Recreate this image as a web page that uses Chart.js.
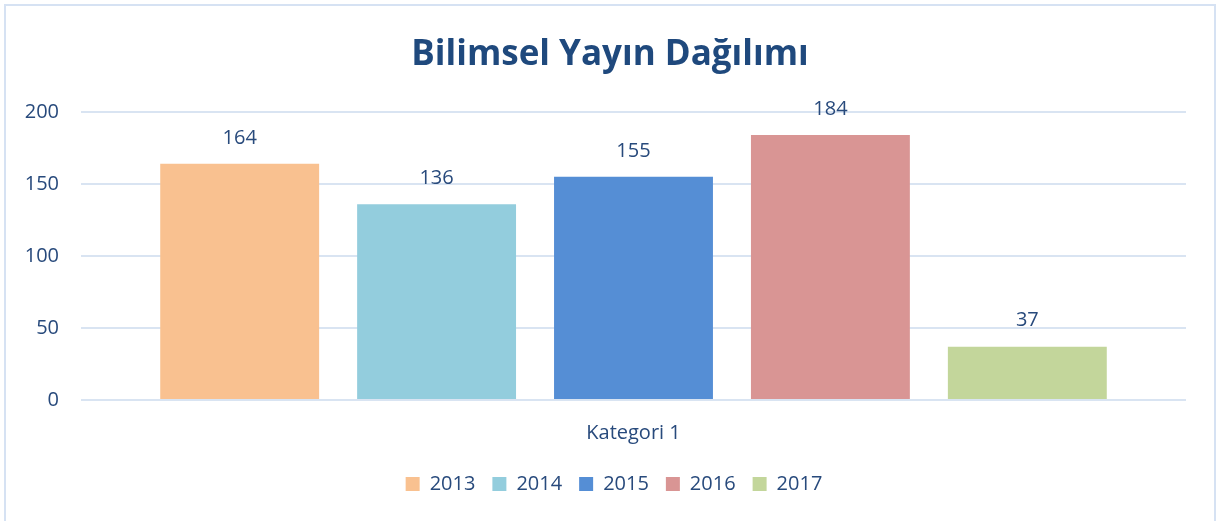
<!DOCTYPE html>
<html>
<head>
<meta charset="utf-8">
<script src="https://cdn.jsdelivr.net/npm/chart.js@4"></script>
<style>
  html, body { margin: 0; padding: 0; background: #fff; }
  #wrap { position: relative; width: 1219px; height: 521px; }
  #frame { position: absolute; left: 4px; top: 4px; width: 1212px; height: 520px; border: 2px solid #d6e2f3; box-sizing: border-box; pointer-events: none; }
</style>
</head>
<body>
<div id="wrap">
  <canvas id="myChart" width="1219" height="521"></canvas>
  <div id="frame"></div>
</div>
<script>
// Datas
const categories = ["Kategori 1"];
const years = ["2013", "2014", "2015", "2016", "2017"];
const counts = [164, 136, 155, 184, 37];
const colors = ["#f9c190", "#93cddd", "#558ed5", "#d99594", "#c3d69b"];
const yTicks = [0, 50, 100, 150, 200];

const textColor = "#284a7c";
const fontFamily = "'Open Sans', sans-serif";

// value labels above bars
const valueLabels = {
    id: 'valueLabels',
    afterDatasetsDraw(chart) {
        const ctx = chart.ctx;
        ctx.save();
        ctx.font = "20px " + fontFamily;
        ctx.fillStyle = textColor;
        ctx.textAlign = 'center';
        ctx.textBaseline = 'middle';
        chart.data.datasets.forEach((ds, i) => {
            const meta = chart.getDatasetMeta(i);
            meta.data.forEach((bar, j) => {
                ctx.fillText(ds.data[j], bar.x, bar.y - 26);
            });
        });
        ctx.restore();
    }
};

// nudge title and legend to be centred on the whole frame like the original
const centreBoxes = {
    id: 'centreBoxes',
    afterLayout(chart) {
        chart.titleBlock.left += 17;
        chart.titleBlock.right += 17;
        chart.legend.left += 21;
        chart.legend.right += 21;
    }
};

// the chart
const myChart = new Chart('myChart', {
    type: 'bar',
    data: {
        labels: categories,
        datasets: years.map((y, i) => ({
            label: y,
            data: [counts[i]],
            backgroundColor: colors[i],
            borderWidth: 0
        }))
    },
    options: {
        responsive: false,
        animation: false,
        categoryPercentage: 0.891,
        barPercentage: 0.807,
        layout: { padding: { left: 0, right: 33, bottom: 17 } },
        plugins: {
            title: {
                display: true,
                text: 'Bilimsel Yayın Dağılımı',
                color: '#1f497d',
                font: { family: fontFamily, size: 35, weight: 'bold' },
                padding: { top: 34, bottom: 36 }
            },
            legend: {
                position: 'bottom',
                labels: {
                    color: textColor,
                    font: { family: fontFamily, size: 20 },
                    boxWidth: 14,
                    boxHeight: 14,
                    padding: 17
                }
            },
            tooltip: { enabled: false }
        },
        scales: {
            x: {
                grid: { display: false, drawTicks: false },
                border: { display: false },
                ticks: { color: textColor, font: { family: fontFamily, size: 20 }, padding: 21 },
                afterFit(s) { s.height = 57; }
            },
            y: {
                min: 0,
                max: 200,
                afterBuildTicks(s) { s.ticks = yTicks.map(v => ({ value: v })); },
                grid: { color: '#d9e4f2', lineWidth: 2, drawTicks: false },
                border: { display: false },
                ticks: { color: textColor, font: { family: fontFamily, size: 20 }, padding: 22 },
                afterFit(s) { s.width = 81; }
            }
        }
    },
    plugins: [valueLabels, centreBoxes]
});
</script>
</body>
</html>
